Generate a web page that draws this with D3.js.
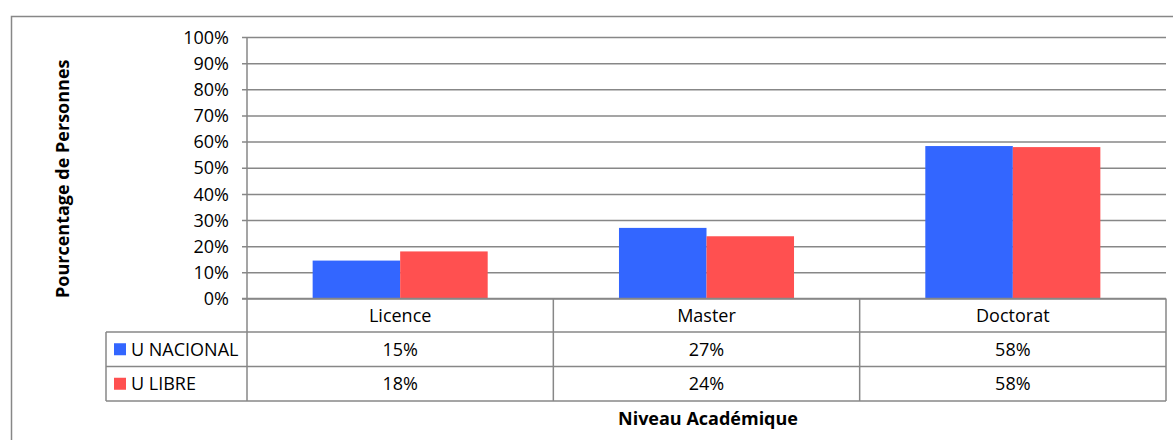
<!DOCTYPE html>
<html>
<head>
<meta charset="utf-8">
<script src="https://cdn.jsdelivr.net/npm/d3@7"></script>
<style>
  body { margin: 0; background: #fff; }
  svg text { font-family: "Open Sans", "Noto Sans", sans-serif; fill: #000; }
</style>
</head>
<body>
<div id="chart"></div>
<script>
// data
var categories = ["Licence", "Master", "Doctorat"];
var seriesNames = ["U NACIONAL", "U LIBRE"];
var nacional = [0.145, 0.27, 0.583];
var libre = [0.18, 0.238, 0.579];
var nacionalLabels = ["15%", "27%", "58%"];
var libreLabels = ["18%", "24%", "58%"];
var colors = ["#3366ff", "#ff5050"];
var yTicks = [0, 0.1, 0.2, 0.3, 0.4, 0.5, 0.6, 0.7, 0.8, 0.9, 1];

var width = 1173, height = 440;
var gridColor = "#878787";
var fontSize = "18px";

var svg = d3.select("#chart")
  .append("svg")
  .attr("width", width)
  .attr("height", height);

// outer chart frame (runs off the right and bottom of the picture)
svg.append("rect")
  .attr("x", 11.5)
  .attr("y", 16.5)
  .attr("width", 1200)
  .attr("height", 500)
  .attr("fill", "#fff")
  .attr("stroke", gridColor)
  .attr("stroke-width", 1.5);

var plotLeft = 247, plotRight = 1166, plotTop = 37, plotBottom = 298.5;

var x0 = d3.scaleBand()
  .domain(categories)
  .range([plotLeft, plotRight])
  .padding(0);

var x1 = d3.scaleBand()
  .domain(seriesNames)
  .range([0, x0.bandwidth()])
  .paddingInner(0)
  .paddingOuter(0.75);

var y = d3.scaleLinear()
  .domain([0, 1])
  .range([plotBottom, plotTop]);

// gridlines
var yAxis = d3.axisLeft(y)
  .tickValues(yTicks)
  .tickSize(-(plotRight - plotLeft))
  .tickFormat(d3.format(".0%"));

var gy = svg.append("g")
  .attr("transform", "translate(" + plotLeft + ",0)")
  .call(yAxis);
gy.select(".domain").remove();
gy.selectAll(".tick line")
  .attr("stroke", gridColor)
  .attr("stroke-width", 1.5)
  .attr("x1", -5);
gy.selectAll(".tick text")
  .attr("x", -18)
  .attr("dy", "0.34em")
  .style("font-size", fontSize)
  .style("font-family", "Open Sans");

// bars
var rows = seriesNames.map(function(s, i) {
  return { name: s, values: i === 0 ? nacional : libre, labels: i === 0 ? nacionalLabels : libreLabels, color: colors[i] };
});

var groups = svg.selectAll(".cat")
  .data(categories)
  .enter()
  .append("g")
  .attr("class", "cat")
  .attr("transform", function(d) { return "translate(" + x0(d) + ",0)"; });

groups.selectAll("rect")
  .data(function(d, ci) {
    return rows.map(function(r) { return { name: r.name, value: r.values[ci], color: r.color }; });
  })
  .enter()
  .append("rect")
  .attr("x", function(d) { return x1(d.name); })
  .attr("width", x1.bandwidth())
  .attr("y", function(d) { return y(d.value); })
  .attr("height", function(d) { return plotBottom - y(d.value); })
  .attr("fill", function(d) { return d.color; });

// data table under the axis
var rowH = 34.5;
var tableLeft = 106;
var catRowBottom = plotBottom + rowH - 1;
var lineStyle = function(sel) {
  sel.attr("stroke", gridColor).attr("stroke-width", 1.5).attr("fill", "none");
};

// axis line (y = 0)
svg.append("line")
  .attr("x1", plotLeft - 5).attr("x2", plotRight)
  .attr("y1", plotBottom).attr("y2", plotBottom)
  .call(lineStyle);

// vertical axis line running down into the table
svg.append("line")
  .attr("x1", plotLeft).attr("x2", plotLeft)
  .attr("y1", plotTop).attr("y2", catRowBottom + 2 * rowH)
  .call(lineStyle);

// column separators
categories.forEach(function(c) {
  svg.append("line")
    .attr("x1", x0(c) + x0.bandwidth()).attr("x2", x0(c) + x0.bandwidth())
    .attr("y1", plotBottom).attr("y2", catRowBottom + 2 * rowH)
    .call(lineStyle);
});

// horizontal row lines
[0, 1, 2].forEach(function(i) {
  svg.append("line")
    .attr("x1", tableLeft).attr("x2", plotRight)
    .attr("y1", catRowBottom + i * rowH).attr("y2", catRowBottom + i * rowH)
    .call(lineStyle);
});
svg.append("line")
  .attr("x1", tableLeft).attr("x2", tableLeft)
  .attr("y1", catRowBottom).attr("y2", catRowBottom + 2 * rowH)
  .call(lineStyle);

// category labels
svg.selectAll(".catlabel")
  .data(categories)
  .enter()
  .append("text")
  .attr("class", "catlabel")
  .attr("x", function(d) { return x0(d) + x0.bandwidth() / 2; })
  .attr("y", (plotBottom + catRowBottom) / 2)
  .attr("dy", "0.36em")
  .attr("text-anchor", "middle")
  .style("font-size", fontSize)
  .text(function(d) { return d; });

// series rows
rows.forEach(function(r, i) {
  var cy = catRowBottom + i * rowH + rowH / 2;
  svg.append("rect")
    .attr("x", 114).attr("y", cy - 6)
    .attr("width", 12).attr("height", 12)
    .attr("fill", r.color);
  svg.append("text")
    .attr("x", 131).attr("y", cy)
    .attr("dy", "0.36em")
    .style("font-size", fontSize)
    .text(r.name);
  categories.forEach(function(c, ci) {
    svg.append("text")
      .attr("x", x0(c) + x0.bandwidth() / 2)
      .attr("y", cy)
      .attr("dy", "0.36em")
      .attr("text-anchor", "middle")
      .style("font-size", fontSize)
      .text(r.labels[ci]);
  });
});

// axis titles
svg.append("text")
  .attr("transform", "translate(63," + ((plotTop + plotBottom) / 2 + 11) + ") rotate(-90)")
  .attr("dy", "0.36em")
  .attr("text-anchor", "middle")
  .style("font-size", "18px")
  .style("font-weight", "bold")
  .text("Pourcentage de Personnes");

svg.append("text")
  .attr("x", 708)
  .attr("y", 419)
  .attr("dy", "0.36em")
  .attr("text-anchor", "middle")
  .style("font-size", "18px")
  .style("font-weight", "bold")
  .text("Niveau Académique");
</script>
</body>
</html>
